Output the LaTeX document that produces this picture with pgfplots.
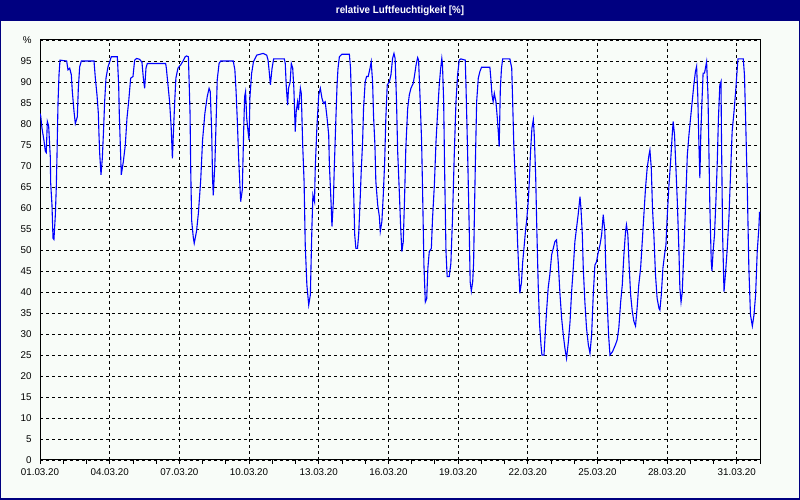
\documentclass[border=0pt]{standalone}
\usepackage{fontspec}
\setmainfont{Liberation Sans}
\usepackage{graphicx}
\usepackage{pgfplots}
\pgfplotsset{compat=1.18}
\definecolor{navy}{RGB}{0,0,128}
\definecolor{bgc}{RGB}{248,252,248}
\begin{document}
\begin{tikzpicture}[x=1bp,y=1bp]
\fill[bgc] (0,0) rectangle (800,500);
\fill[navy] (0,479) rectangle (800,500);
\node[text=white,anchor=center] at (400,489.5) {\scalebox{0.93}[1]{\fontsize{10.5bp}{12bp}\selectfont\bfseries relative Luftfeuchtigkeit [\%]}};
\draw[navy,line width=1.5bp] (0.75,0.75) rectangle (799.25,499.25);
\begin{axis}[
  at={(40bp,40bp)}, anchor=south west,
  scale only axis, width=720bp, height=420bp,
  xmin=0, xmax=31, ymin=0, ymax=100,
  axis line style={black, line width=1bp},
  xtick={0,3,...,30},
  xticklabels={01.03.20,04.03.20,07.03.20,10.03.20,13.03.20,16.03.20,19.03.20,22.03.20,25.03.20,28.03.20,31.03.20},
  minor xtick={1,2,...,31},
  xtick pos=bottom, tick align=outside,
  major tick length=4bp, minor tick length=4bp,
  tick style={black, line width=0.8bp},
  ytick={0,5,...,100},
  yticklabels={0,5,10,15,20,25,30,35,40,45,50,55,60,65,70,75,80,85,90,95,\%},
  ytick style={draw=none},
  ymajorgrids, xmajorgrids,
  major grid style={black, line width=0.8bp, dash pattern=on 3bp off 3bp},
  ticklabel style={font=\fontsize{9.8bp}{11bp}\selectfont, text=black},
  xticklabel style={yshift=-1bp},
  yticklabel style={xshift=-1bp},
  /pgf/number format/assume math mode=true,
]
\addplot[color={rgb,255:red,0;green,0;blue,255}, line width=1.1bp, mark=none] coordinates {
(0,82.5)(0.029,82)(0.086,79)(0.172,76)(0.23,73.5)(0.27,73.2)(0.316,80.6)(0.373,79.5)(0.445,72)(0.459,66)(0.516,60.7)(0.56,52.8)(0.60,52.5)(0.66,58.3)(0.70,64.7)(0.73,72)(0.775,84.9)(0.818,91.7)(0.861,95.2)(1.148,95)(1.205,92.9)(1.277,93.3)(1.349,91.7)(1.392,87.7)(1.464,83)(1.521,80.1)(1.607,81.7)(1.65,88.5)(1.708,93.6)(1.78,95)(2.325,95)(2.383,90.9)(2.454,86.9)(2.511,82.6)(2.54,77.4)(2.569,73.1)(2.626,67.9)(2.683,71.8)(2.74,79)(2.783,85.3)(2.841,90.9)(2.927,93.6)(2.999,94.8)(3.07,96)(3.33,96)(3.387,89.3)(3.415,82.2)(3.458,75)(3.5,67.9)(3.587,71)(3.673,75)(3.745,81.4)(3.817,85.3)(3.903,90.9)(4.003,91.3)(4.075,95.2)(4.16,95.6)(4.29,95.4)(4.39,94.7)(4.45,90.9)(4.505,88.5)(4.563,93.3)(4.62,94.4)(5.41,94.4)(5.44,93.3)(5.51,89.3)(5.58,85.3)(5.65,79)(5.70,71.8)(5.74,77.4)(5.80,85.3)(5.85,90.9)(5.94,93.3)(6.06,94.1)(6.16,95)(6.25,96)
(6.31,96.2)(6.39,96)(6.46,82.6)(6.49,69)(6.53,57)(6.60,53)(6.64,51.6)(6.74,54.5)(6.82,58.8)(6.92,66.7)(7.00,76.2)(7.10,82.6)(7.20,86.5)(7.28,88.5)(7.33,87.7)(7.39,78.6)(7.43,67)(7.46,63)(7.53,70.6)(7.58,80.2)(7.63,90.5)(7.71,94.4)(7.78,95)(8.32,95)(8.39,92.9)(8.44,88)(8.50,80.2)(8.55,72.2)(8.61,65)(8.64,61.5)(8.71,64.3)(8.77,78.6)(8.81,86.5)(8.85,87.7)(8.90,81.4)(8.95,78.6)(9.00,76.2)(9.04,86.5)(9.11,92)(9.19,94.8)(9.33,96.4)(9.61,96.8)(9.76,96.4)
(9.82,95.2)(9.87,92.4)(9.92,89.3)(9.99,93.2)(10.06,95.5)(10.52,95.5)(10.56,94.4)(10.60,89.3)(10.66,84.5)(10.70,88.5)(10.77,90)(10.82,94.4)(10.88,93.3)(10.93,88.5)(10.99,78.2)(11.03,82.9)(11.09,85.3)(11.13,83.3)(11.21,88.5)(11.25,87.3)(11.31,75)(11.37,66.3)(11.42,51.2)(11.49,41.7)(11.57,36.9)(11.64,39.3)(11.71,56)(11.75,63.1)(11.82,61.5)(11.85,69.4)(11.92,79)(12.00,86.9)(12.07,88.5)(12.14,86.1)(12.21,84.9)(12.28,85.3)(12.36,81.4)(12.43,77.4)
(12.46,70.2)(12.53,61.5)(12.57,55.6)(12.63,61.5)(12.67,69.4)(12.74,81.4)(12.79,89.3)(12.83,93.2)(12.89,96)(13.0,96.6)(13.32,96.6)(13.37,93.3)(13.43,81.4)(13.49,67.1)(13.55,53.6)(13.60,50.4)(13.67,50.4)(13.72,53.6)(13.78,61.5)(13.83,68.7)(13.89,75.8)(13.93,83.7)(14.00,90)(14.06,91.3)(14.13,91.3)(14.21,93.3)(14.26,94.8)(14.32,90)(14.36,82)(14.42,75)(14.46,66.3)(14.54,60.7)(14.61,58)(14.65,54.4)(14.72,56.8)(14.78,63.1)(14.84,71)(14.89,81.4)(14.95,89.3)(15.04,90)(15.11,91.7)(15.18,95.6)(15.24,96.8)(15.29,95.6)(15.35,85.3)(15.40,73.4)(15.47,63.9)(15.53,55.2)(15.58,49.6)(15.64,52)(15.70,63.1)(15.75,74.2)(15.83,83.7)(15.90,86.9)(15.97,88.5)(16.07,89.7)(16.13,91.7)(16.19,94)(16.26,95.8)(16.30,95.2)(16.37,85.3)(16.43,75.8)(16.47,64.7)(16.53,46.4)(16.59,37.6)(16.65,38.4)(16.70,45.7)(16.76,49.6)(16.85,50.4)(16.90,57.5)(16.98,65.5)(17.05,75.8)(17.12,82.9)(17.19,89.3)(17.25,93.2)(17.30,95.6)(17.33,94)(17.38,85.3)(17.42,69.4)(17.48,49.6)(17.53,43.7)(17.62,43.7)(17.69,46.8)(17.76,57.5)(17.84,73.4)(17.91,85.3)(17.98,91.7)(18.05,95.2)(18.12,95.5)(18.31,95.2)(18.34,89.3)(18.41,73.4)(18.48,55.2)(18.52,42.5)(18.57,40.2)(18.63,42.5)(18.67,47)
(18.70,57.5)(18.74,69.4)(18.80,85.3)(18.87,90.9)(18.94,92.5)(19.01,93.5)(19.37,93.5)(19.41,90.9)(19.46,86.9)(19.51,85.3)(19.56,87.3)(19.63,85.3)(19.69,81.4)(19.74,77.4)(19.77,74.6)(19.82,88.5)(19.87,93.3)(19.92,95.5)(20.23,95.5)(20.31,93.3)(20.35,85.3)(20.40,75)(20.46,67.1)(20.52,59.2)(20.56,52)(20.61,45.7)(20.66,39.7)(20.73,42.3)(20.78,47)(20.85,51.2)(20.91,55)(20.95,56.8)(21.02,61.5)(21.06,65.5)(21.12,73.4)(21.18,79)(21.24,81)(21.28,77.4)(21.34,67.9)(21.39,55.2)(21.45,41.7)(21.51,32.2)(21.57,27.4)(21.61,25)(21.70,25)(21.75,29.8)(21.81,35.4)(21.88,41)(21.95,44.1)(22.03,48.9)(22.10,50.4)(22.17,52)(22.24,52.4)(22.31,47.3)(22.39,39.3)(22.46,33.7)(22.53,29.8)(22.60,26.6)(22.67,24.2)(22.75,28.2)(22.82,32.9)(22.89,40.2)(22.96,45.7)(23.03,52)(23.10,55.2)(23.17,58.4)(23.25,62.7)(23.29,60)(23.35,53.6)(23.39,45.7)(23.46,37.6)(23.53,31.4)(23.61,27.4)(23.68,25.4)(23.75,29.8)(23.82,39.3)(23.89,46.4)(23.96,47.2)(24.04,49.6)(24.11,51.2)(24.18,53.6)(24.25,58.4)(24.32,54.4)(24.36,45.7)(24.42,37.6)(24.48,29.8)(24.54,25)(24.65,25.8)(24.78,27.5)
(24.85,28.6)(24.92,31.4)(25.00,37.6)(25.07,41.7)(25.14,48.9)(25.21,54.4)(25.25,56)(25.31,53.6)(25.37,45.7)(25.43,39.3)(25.50,35.4)(25.57,33)(25.64,31.9)(25.71,36.3)(25.78,41.7)(25.86,45.7)(25.93,52)(26.00,58.4)(26.07,64.7)(26.14,69.4)(26.22,72.6)(26.26,73.8)(26.32,69.4)(26.37,60)(26.43,53.6)(26.50,44.1)(26.57,38.5)(26.65,36.1)(26.69,35.7)(26.75,39.3)(26.82,45.7)(26.89,48.9)(26.95,51.2)(27.00,57.5)(27.08,65.5)(27.15,71)(27.22,77.4)(27.26,80.6)(27.32,77.4)(27.38,69.4)(27.44,61.5)(27.51,49.6)(27.55,40.9)(27.60,37.6)(27.65,39.8)(27.72,49.6)(27.80,61.5)(27.87,72.6)(27.94,77.4)(28.01,81.4)(28.08,85.3)(28.15,89.3)(28.22,92.5)(28.27,93.7)(28.32,86.9)(28.37,75)(28.41,67.1)(28.45,77.4)(28.50,85.3)(28.55,92.1)(28.61,92.1)(28.65,93.3)(28.70,94.8)(28.76,86.9)(28.80,73.4)(28.84,60.7)(28.90,47.3)(28.93,45)(28.98,49.6)(29.04,53.6)(29.10,61.5)(29.16,71)(29.21,81.4)(29.27,89.3)(29.32,90.1)(29.34,77.4)(29.39,53.6)(29.45,40.1)(29.52,44.9)(29.59,50.4)(29.66,57.5)(29.73,67.9)(29.80,78.2)(29.88,82.9)(29.95,87.7)(29.99,90.9)(30.05,95.5)(30.28,95.5)(30.33,91.7)(30.38,81.4)(30.45,65.5)(30.52,45.7)(30.59,34.5)(30.67,31.9)(30.74,34.5)(30.81,39.3)(30.88,49.6)(30.95,55.2)(30.98,59.1)
};
\end{axis}
\pgfresetboundingbox
\useasboundingbox (0,0) rectangle (800,500);
\end{tikzpicture}
\end{document}
